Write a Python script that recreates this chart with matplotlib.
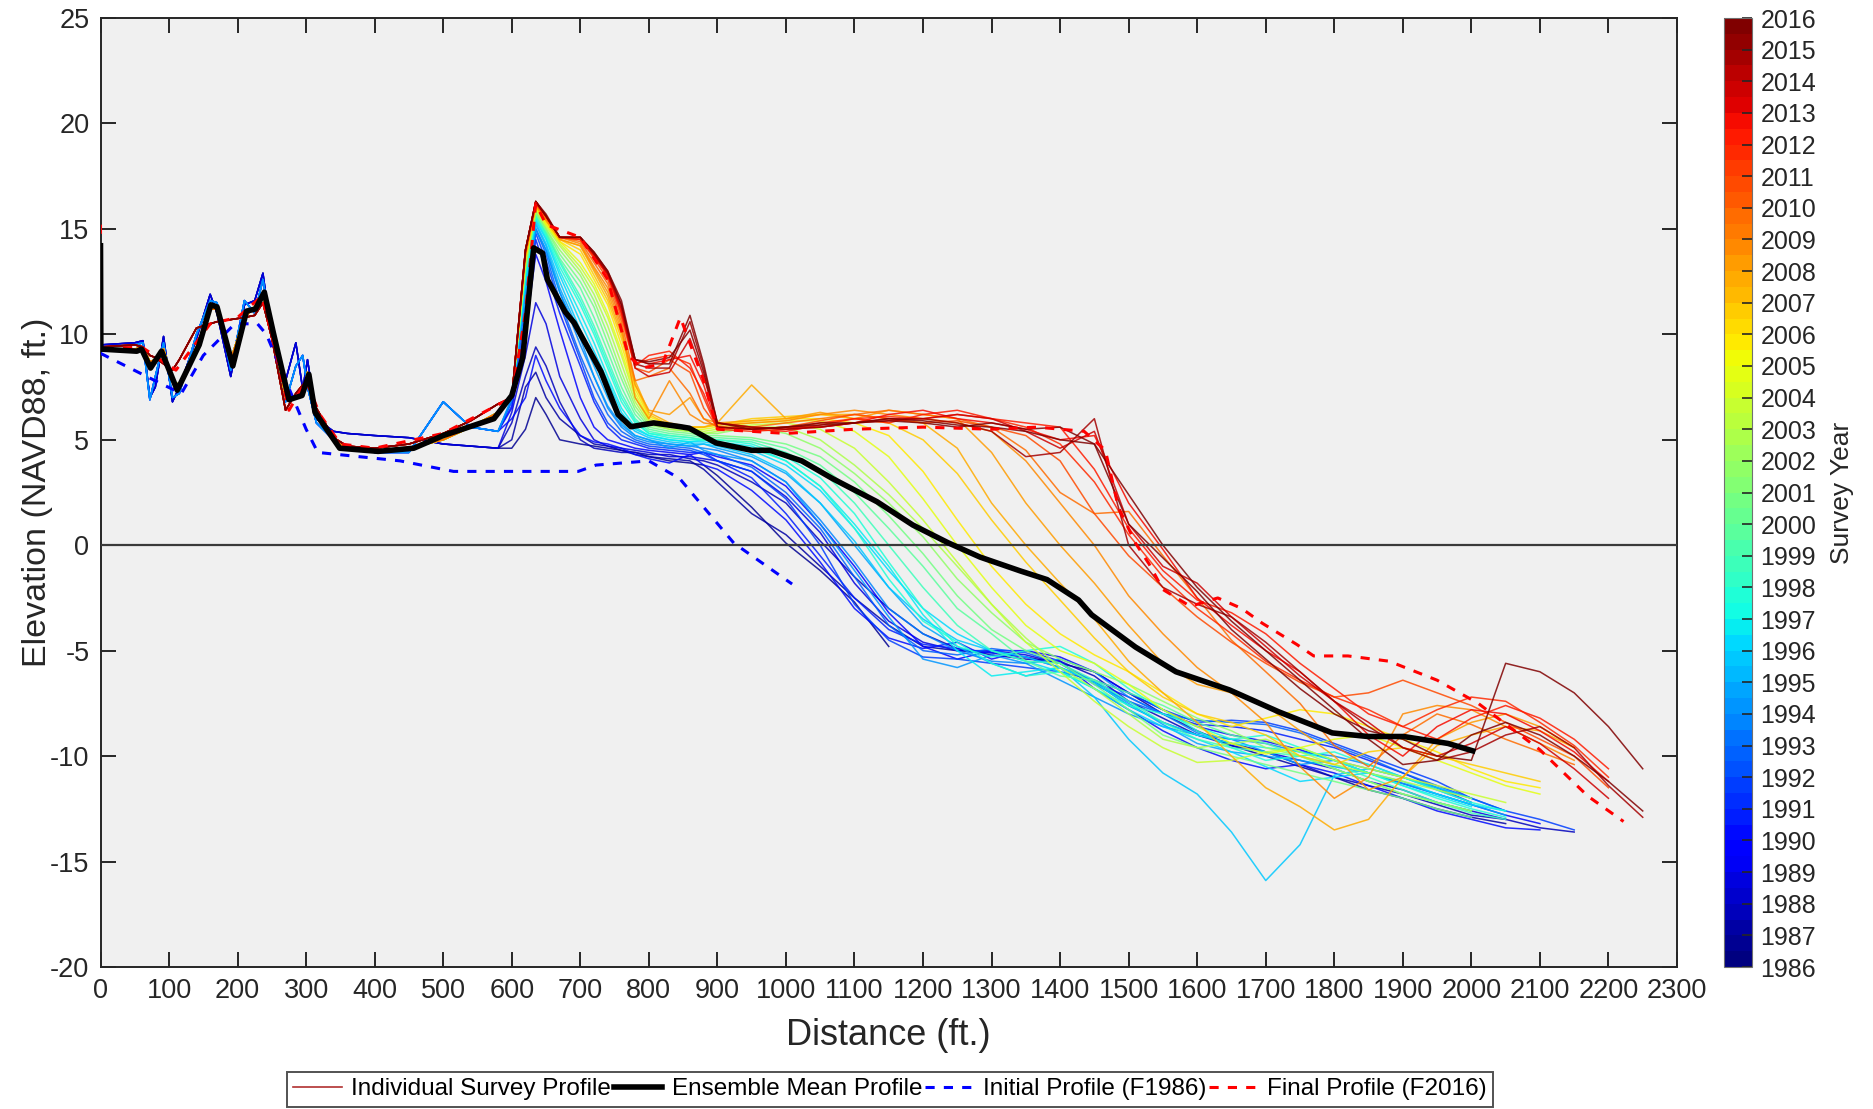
import numpy as np
import matplotlib
matplotlib.use('Agg')
import matplotlib.pyplot as plt
from matplotlib.colors import ListedColormap, Normalize
from matplotlib.cm import ScalarMappable
from matplotlib.lines import Line2D

plt.rcParams['font.family'] = ['Liberation Sans', 'DejaVu Sans']
plt.rcParams['axes.unicode_minus'] = False

# ---------------- data ----------------
# dune part distances (ft) and dune-shape variants (ft NAVD88)
DX = [0, 50, 62, 72, 80, 92, 105, 115, 140, 160, 170, 190, 210, 225, 237,
      250, 270, 285, 295, 302, 315, 340, 360, 400, 450, 500, 540, 580]
D_A = [9.5, 9.6, 9.7, 7.0, 7.5, 9.9, 6.8, 7.5, 9.8, 11.9, 11.0, 8.0, 11.4, 11.6, 12.9,
       9.8, 7.8, 9.6, 7.4, 8.8, 6.0, 5.4, 5.3, 5.2, 5.1, 4.8, 4.7, 4.6]
D_B = [9.4, 9.5, 9.6, 6.9, 8.0, 9.6, 7.0, 7.2, 10.0, 11.6, 11.5, 8.3, 11.6, 11.0, 12.6,
       10.0, 6.8, 8.5, 9.0, 7.5, 5.8, 5.0, 4.7, 4.4, 4.4, 6.8, 5.6, 5.4]
D_C = [9.3, 9.3, 9.4, 8.7, 8.8, 9.3, 7.8, 7.6, 9.4, 11.2, 11.2, 8.8, 10.8, 11.3, 11.8,
       10.4, 7.0, 7.0, 7.1, 8.2, 6.4, 5.0, 4.6, 4.5, 4.6, 5.0, 5.6, 6.3]
D_D = [9.4, 9.5, 9.4, 9.0, 8.9, 8.6, 8.3, 8.8, 10.3, 10.5, 10.6, 10.7, 10.8, 10.9, 11.5,
       9.8, 6.4, 7.2, 7.6, 7.8, 6.5, 5.1, 4.7, 4.6, 4.8, 5.3, 5.9, 6.7]

# shore part distances (ft)
SX = [600, 620, 635, 650, 670, 700, 720, 740, 760, 780, 800, 830, 860, 880, 900,
      950, 1000, 1050, 1100, 1150, 1200, 1250, 1300, 1350, 1400, 1450, 1500, 1550,
      1600, 1650, 1700, 1750, 1800, 1850, 1900, 1950, 2000, 2050, 2100, 2150, 2200, 2250]

Z_1986B = [4.6, 5.5, 7.0, 6.2, 5.0, 4.8, 4.7, 4.6, 4.5, 4.4, 4.2, 4.0, 3.9, 3.8, 3.3,
           1.8, 0.1, -1.2, -2.7, -4.8]
Z_1987A = [5.0, 7.5, 8.2, 7.0, 6.0, 5.2, 4.8, 4.7, 4.5, 4.3, 4.2, 4.1, 4.0, 3.6, 3.0,
           1.5, 0.5, -1.0, -2.5, -3.8, -4.8, -5.0, -5.1, -5.3, -5.6, -6.0, -7.0, -8.0,
           -8.8, -9.5, -10.0, -10.5, -11.0, -11.6, -12.0, -12.5, -12.9, -13.2]
Z_1987B = [5.8, 8.0, 9.4, 8.5, 6.8, 5.0, 4.6, 4.5, 4.4, 4.4, 4.3, 4.3, 4.1, 4.0, 3.8,
           3.0, 2.0, 0.2, -1.5, -3.0, -4.2, -4.9, -5.2, -5.4, -5.5, -6.2, -7.4, -8.2,
           -9.0, -9.4, -9.8, -10.4, -11.0, -11.4, -11.8, -12.3, -12.8, -13.0, -13.4, -13.6]
Z_1988 = [6.3, 9.0, 11.5, 10.5, 8.0, 6.0, 5.0, 4.7, 4.6, 4.5, 4.4, 4.2, 4.2, 4.1, 4.0,
          3.5, 2.3, 0.6, -1.8, -3.6, -4.6, -5.0, -5.0, -5.2, -5.6, -6.5, -7.6, -8.4,
          -9.0, -9.5, -9.8, -10.2, -10.6, -11.2, -11.6, -12.2, -12.6, -13.0]
Z_1989 = [6.5, 10.0, 13.8, 12.5, 10.2, 7.0, 5.6, 5.0, 4.8, 4.6, 4.5, 4.4, 4.3, 4.4, 4.2,
          3.8, 2.8, 1.0, -1.0, -3.2, -4.8, -5.4, -5.0, -5.0, -5.3, -6.0, -7.0, -7.8,
          -8.6, -9.0, -9.3, -9.7, -10.2, -10.8, -11.3, -11.8, -12.3, -12.8, -13.2]
Z_1990A = [6.0, 7.0, 9.0, 7.8, 6.5, 5.2, 4.9, 4.8, 4.6, 4.3, 4.1, 3.9, 4.3, 3.8, 3.6,
           2.6, 1.2, -0.8, -3.0, -4.4, -4.9, -4.6, -5.4, -5.0, -5.5, -6.8, -7.8, -8.8,
           -9.6, -10.2, -10.6, -10.4, -10.8, -11.4, -12.0, -12.6, -13.0, -13.4, -13.5]
Z_1990 = [6.6, 10.5, 14.5, 13.0, 11.0, 8.5, 6.8, 5.6, 5.0, 4.8, 4.6, 4.5, 4.4, 4.4, 4.0,
          3.2, 1.5, -0.5, -2.5, -4.0, -4.7, -4.9, -5.1, -5.3, -5.8, -6.5, -7.2, -8.0,
          -8.5, -8.6, -8.8, -9.2, -9.6, -10.2, -10.8, -11.5, -12.2]
Z_1991 = [6.8, 11.0, 14.8, 13.5, 11.4, 8.8, 7.0, 5.8, 5.2, 4.9, 4.7, 4.6, 4.5, 4.3, 4.0,
          3.5, 2.2, 0.0, -2.8, -4.5, -5.3, -5.4, -5.6, -5.8, -6.0, -6.4, -7.0, -7.8,
          -8.4, -8.3, -8.4, -8.8, -9.4, -10.0, -10.6, -11.2, -12.0, -12.6, -13.0, -13.5]
Z_1992 = [6.9, 11.5, 15.0, 13.8, 11.6, 9.0, 7.5, 6.2, 5.4, 5.0, 4.8, 4.7, 4.6, 4.4, 4.3,
          3.7, 2.5, 0.8, -1.5, -3.8, -5.0, -5.2, -4.9, -5.1, -5.6, -6.6, -7.4, -8.0,
          -8.3, -8.4, -8.5, -8.9, -9.5, -10.1, -10.8, -11.4, -12.0, -12.6]
Z_1993 = [6.9, 12.0, 15.0, 14.0, 12.0, 9.5, 8.0, 6.5, 5.6, 5.1, 4.9, 4.8, 4.7, 4.6, 4.5,
          4.0, 3.0, 1.2, -0.8, -3.0, -4.2, -5.0, -5.5, -5.6, -5.4, -6.0, -7.2, -8.0,
          -8.9, -9.2, -9.4, -9.8, -10.0, -10.4, -11.0, -11.6, -12.2]
Z_1994A = [7.0, 12.2, 15.0, 14.0, 12.0, 9.8, 8.0, 6.6, 5.7, 5.2, 5.0, 4.6, 4.9, 4.5, 4.3,
           4.0, 3.0, 1.0, -1.2, -3.4, -5.4, -5.8, -5.2, -5.6, -6.4, -7.2, -8.0, -8.6,
           -9.0, -9.2, -9.8, -10.4, -10.2, -10.6, -11.0, -11.5, -12.0]
Z_1994 = [7.0, 12.0, 15.2, 14.2, 12.2, 10.0, 8.5, 7.0, 5.8, 5.2, 5.0, 4.8, 4.7, 4.8, 4.6,
          4.2, 3.4, 2.0, 0.0, -2.0, -3.8, -4.8, -5.6, -6.2, -5.8, -6.4, -7.5, -8.5,
          -9.4, -9.8, -10.0, -10.2, -10.5, -10.8, -11.3, -11.8, -12.3, -12.8]
Z_1995 = [7.0, 12.5, 15.3, 14.3, 12.5, 10.2, 8.8, 7.2, 6.0, 5.4, 5.1, 4.9, 4.8, 4.8, 4.7,
          4.3, 3.5, 2.0, 0.2, -2.0, -3.5, -4.5, -5.0, -5.3, -5.8, -7.2, -9.2, -10.8,
          -11.8, -13.6, -15.9, -14.2, -10.9, -10.6, -11.0, -11.5, -12.0]
Z_1996A = [7.0, 12.5, 15.4, 14.5, 12.8, 10.6, 9.2, 7.8, 6.3, 5.5, 5.2, 5.0, 4.9, 4.9, 4.8,
           4.5, 3.8, 2.6, 0.8, -1.2, -3.0, -4.2, -5.0, -5.5, -6.0, -6.8, -7.8, -8.6,
           -9.2, -9.8, -10.5, -11.2, -11.0, -10.8, -11.2, -11.8, -12.3, -12.6]
Z_1996B = [7.0, 12.8, 15.5, 14.6, 13.0, 11.0, 9.6, 8.0, 6.5, 5.6, 5.2, 5.0, 4.9, 5.0, 4.9,
           4.7, 4.0, 2.8, 1.0, -1.0, -3.3, -5.0, -6.2, -6.0, -5.8, -6.5, -7.6, -8.4,
           -9.0, -9.4, -9.6, -9.8, -10.2, -10.8, -11.4, -11.9, -12.4]
Z_1997 = [7.0, 13.0, 15.6, 14.7, 13.2, 11.4, 10.0, 8.4, 6.8, 5.8, 5.3, 5.1, 5.0, 5.0, 5.0,
          4.8, 4.2, 3.2, 1.5, -0.8, -3.0, -4.8, -5.3, -5.0, -4.8, -5.6, -6.8, -7.8,
          -8.8, -9.6, -10.2, -10.0, -9.8, -10.4, -11.0, -11.6, -12.2, -12.6]
Z_1997B = [7.0, 13.0, 15.6, 14.8, 13.4, 11.6, 10.2, 8.6, 7.0, 5.9, 5.3, 5.2, 5.1, 5.0, 4.9,
           4.6, 4.0, 2.8, 0.8, -1.6, -3.6, -4.6, -5.6, -6.2, -6.0, -6.8, -7.6, -8.0,
           -8.6, -9.2, -9.0, -9.6, -10.2, -10.8, -11.4, -12.0, -12.5, -12.9]
Z_1998 = [7.0, 13.0, 15.6, 14.8, 13.5, 11.8, 10.4, 8.8, 7.2, 6.0, 5.4, 5.2, 5.1, 5.0, 5.0,
          4.9, 4.4, 3.6, 2.0, 0.0, -2.0, -3.8, -5.0, -5.5, -5.6, -6.4, -7.4, -8.4,
          -9.2, -9.6, -9.8, -10.0, -10.4, -11.0, -11.6, -12.2, -12.7, -13.0]
Z_1999 = [7.0, 13.2, 15.7, 14.9, 13.6, 12.2, 10.8, 9.2, 7.5, 6.2, 5.5, 5.3, 5.2, 5.1, 5.1,
          5.0, 4.6, 3.8, 2.5, 0.8, -1.0, -3.0, -4.2, -5.5, -6.2, -6.4, -7.0, -7.6,
          -8.4, -9.0, -9.4, -10.0, -10.6, -11.2, -11.8, -12.2, -12.6]
Z_2000 = [7.0, 13.2, 15.8, 15.0, 13.8, 12.5, 11.3, 9.6, 7.9, 6.4, 5.6, 5.4, 5.3, 5.2, 5.2,
          5.1, 4.8, 4.2, 3.0, 1.4, -0.4, -2.4, -4.0, -5.0, -5.6, -6.6, -7.8, -9.0,
          -9.6, -10.0, -10.4, -10.8, -11.2, -11.6, -12.0, -12.5, -12.9]
Z_2001 = [7.0, 13.3, 15.8, 15.0, 14.0, 12.8, 11.6, 10.0, 8.2, 6.6, 5.7, 5.5, 5.4, 5.3, 5.3,
          5.6, 5.3, 4.6, 3.4, 2.0, 0.4, -1.6, -3.2, -4.6, -5.4, -6.0, -6.6, -7.4,
          -8.2, -8.8, -9.6, -10.0, -10.6, -11.2, -11.8, -12.2, -12.6]
Z_2002 = [7.0, 13.4, 15.9, 15.1, 14.2, 13.0, 11.9, 10.4, 8.6, 6.8, 5.8, 5.5, 5.4, 5.3, 5.4,
          5.6, 5.6, 5.0, 3.8, 2.4, 0.8, -1.0, -2.8, -4.4, -5.8, -6.8, -8.0, -9.2,
          -9.6, -9.4, -9.2, -9.8, -10.4, -10.8, -11.2, -11.6, -12.0]
Z_2003 = [7.0, 13.5, 16.0, 15.2, 14.3, 13.2, 12.2, 10.8, 9.0, 7.0, 5.9, 5.6, 5.5, 5.4, 5.5,
          5.7, 5.8, 5.5, 4.6, 3.0, 1.2, -0.8, -2.8, -4.6, -6.0, -7.4, -8.6, -9.6,
          -10.3, -10.2, -9.8, -9.6, -10.2, -10.6, -11.0, -11.4, -11.8, -12.2]
Z_2004 = [7.0, 13.6, 16.0, 15.2, 14.4, 13.4, 12.4, 11.0, 9.2, 7.2, 6.0, 5.6, 5.5, 5.5, 5.6,
          5.8, 5.9, 5.9, 5.4, 4.2, 2.2, 0.0, -2.0, -3.8, -5.0, -5.6, -6.6, -7.8,
          -8.6, -9.4, -9.9, -9.6, -9.2, -9.0, -9.6, -10.2, -10.8, -11.4, -11.8]
Z_2005 = [7.0, 13.6, 16.0, 15.3, 14.4, 13.8, 12.6, 11.4, 9.5, 7.4, 6.1, 5.7, 5.6, 5.6, 5.7,
          5.9, 6.0, 6.0, 5.8, 5.2, 3.5, 1.2, -1.0, -2.8, -4.2, -5.2, -6.0, -7.0,
          -8.0, -8.6, -8.2, -7.8, -8.0, -8.6, -9.2, -9.8, -10.6, -11.2, -11.5]
Z_2006 = [7.0, 13.6, 16.1, 15.4, 14.5, 14.0, 12.8, 11.6, 9.8, 7.6, 6.2, 5.7, 5.6, 5.6, 5.7,
          6.0, 6.1, 6.2, 6.0, 5.8, 5.0, 3.4, 1.2, -0.8, -2.6, -4.4, -6.0, -7.2,
          -8.0, -8.4, -9.0, -10.0, -10.4, -9.8, -9.6, -10.0, -10.4, -10.8, -11.2]
Z_2007 = [7.0, 13.8, 16.1, 15.4, 14.5, 14.2, 13.0, 11.8, 10.0, 7.8, 6.3, 5.8, 5.6, 5.6, 5.8,
          7.6, 6.0, 6.2, 6.2, 6.0, 5.8, 4.6, 2.0, 0.0, -1.8, -3.5, -5.5, -7.0,
          -8.4, -10.0, -11.5, -12.4, -13.5, -13.0, -11.0, -9.5, -9.0, -8.6, -8.8, -9.6]
Z_2008A = [7.0, 13.8, 16.1, 15.4, 14.5, 14.2, 13.1, 12.0, 10.2, 7.6, 6.4, 6.2, 7.0, 6.0, 5.8,
           5.9, 6.0, 6.3, 6.0, 6.4, 6.2, 6.0, 4.4, 2.0, 0.0, -1.8, -3.8, -5.6,
           -6.6, -7.0, -7.6, -8.8, -10.0, -11.6, -11.0, -9.2, -8.4, -8.0, -8.6, -9.6]
Z_2008 = [7.0, 13.8, 16.2, 15.5, 14.6, 14.3, 13.2, 12.2, 10.4, 7.0, 6.0, 7.8, 6.2, 5.8, 5.7,
          5.8, 5.9, 6.2, 6.4, 6.2, 6.0, 5.8, 5.4, 4.0, 2.0, 0.0, -2.4, -4.2,
          -5.8, -7.0, -8.4, -10.5, -12.0, -11.0, -8.0, -7.6, -7.8, -8.6, -9.4, -10.2]
Z_2009 = [7.0, 13.8, 16.2, 15.5, 14.6, 14.4, 13.4, 12.4, 10.6, 7.8, 8.0, 8.4, 7.2, 6.0, 5.6,
          5.6, 5.8, 6.0, 6.2, 6.4, 6.2, 6.0, 5.6, 4.5, 2.5, 1.5, 1.6, -0.5,
          -2.5, -4.5, -6.0, -7.5, -9.5, -10.5, -9.0, -8.0, -8.5, -9.2, -9.8, -10.4]
Z_2010 = [7.0, 13.9, 16.2, 15.6, 14.6, 14.5, 13.6, 12.6, 10.8, 8.4, 8.2, 8.8, 8.2, 6.5, 5.6,
          5.5, 5.6, 5.9, 6.2, 6.0, 5.8, 5.9, 5.6, 5.2, 4.0, 1.5, -0.5, -2.0,
          -3.4, -4.6, -5.6, -6.5, -7.2, -7.0, -6.4, -7.0, -7.6, -8.4, -9.2, -10.0, -11.5]
Z_2011 = [7.0, 14.0, 16.3, 15.6, 14.6, 14.5, 13.7, 12.8, 11.0, 8.6, 8.8, 9.0, 8.6, 7.0, 5.5,
          5.4, 5.5, 5.8, 6.0, 6.1, 6.0, 6.2, 6.0, 5.6, 4.8, 3.0, 0.5, -1.5,
          -3.0, -4.2, -5.5, -6.4, -7.2, -7.8, -8.6, -7.8, -7.2, -7.4, -8.4, -9.5, -11.0]
Z_2012A = [7.0, 14.0, 16.2, 15.6, 14.6, 14.5, 13.7, 12.8, 11.0, 8.5, 9.0, 9.2, 8.4, 7.2, 5.6,
           5.5, 5.4, 5.7, 6.0, 5.8, 6.2, 6.4, 6.0, 5.8, 5.6, 3.6, 0.8, -1.2,
           -2.6, -3.2, -4.2, -5.6, -6.8, -8.0, -8.6, -9.2, -8.2, -7.6, -8.2, -9.2, -10.6]
Z_2012 = [7.0, 14.0, 16.3, 15.6, 14.6, 14.6, 13.8, 12.8, 11.2, 8.8, 8.6, 8.8, 9.0, 7.6, 5.6,
          5.5, 5.6, 5.6, 5.8, 6.2, 6.4, 6.0, 5.8, 5.5, 5.0, 5.2, 2.0, -0.2,
          -2.5, -3.8, -5.0, -6.0, -7.4, -9.0, -10.0, -8.6, -7.8, -8.0, -8.8, -9.8, -11.2]
Z_2013 = [7.0, 14.0, 16.3, 15.6, 14.6, 14.6, 13.8, 12.9, 11.2, 8.4, 8.0, 8.2, 9.8, 8.0, 5.8,
          5.6, 5.5, 5.6, 5.8, 5.9, 6.0, 6.2, 6.0, 5.4, 4.6, 5.4, 1.0, -1.0,
          -1.8, -3.4, -4.8, -6.2, -7.4, -8.4, -9.6, -10.0, -9.4, -8.6, -9.4, -10.6, -12.0]
Z_2014 = [7.0, 14.0, 16.3, 15.6, 14.6, 14.6, 13.8, 12.9, 11.4, 8.6, 8.4, 8.4, 10.6, 8.4, 5.8,
          5.6, 5.5, 5.6, 5.8, 6.0, 6.0, 5.8, 5.4, 4.2, 4.4, 6.0, 0.0, -2.0,
          -2.8, -3.4, -4.6, -6.0, -7.4, -8.6, -9.6, -10.2, -9.8, -9.0, -8.6, -9.6, -11.4, -12.9]
Z_2015 = [7.0, 14.0, 16.3, 15.6, 14.6, 14.6, 13.9, 13.0, 11.4, 8.8, 8.6, 8.6, 10.9, 8.6, 5.8,
          5.5, 5.6, 5.7, 5.8, 5.9, 5.8, 5.6, 5.8, 5.5, 5.6, 4.8, 1.0, -0.6,
          -2.2, -4.0, -5.4, -6.8, -8.0, -8.8, -9.2, -10.0, -10.2, -5.6, -6.0, -7.0, -8.6, -10.6]
Z_2016 = [7.0, 14.0, 16.3, 15.7, 14.6, 14.6, 13.9, 13.0, 11.6, 8.8, 8.7, 8.9, 10.2, 8.2, 5.6,
          5.5, 5.6, 5.8, 5.8, 6.0, 5.9, 5.7, 5.6, 5.4, 5.0, 4.8, 2.4, 0.0,
          -2.0, -3.6, -5.0, -6.4, -7.8, -9.2, -10.4, -10.2, -9.0, -8.4, -9.0, -10.0, -11.2, -12.6]

SURVEY_YEARS = [1986.9, 1987.3, 1987.8, 1988.5, 1989.5, 1990.0, 1990.5, 1991.5, 1992.5,
                1993.5, 1994.0, 1994.5, 1995.5, 1996.3, 1996.8, 1997.5, 1997.9, 1998.5,
                1999.5, 2000.5, 2001.5, 2002.5, 2003.5, 2004.5, 2005.5, 2006.5, 2007.5,
                2008.0, 2008.5, 2009.5, 2010.5, 2011.5, 2012.0, 2012.5, 2013.5, 2014.5,
                2015.5, 2016.2]
SURVEY_SHORE = [Z_1986B, Z_1987A, Z_1987B, Z_1988, Z_1989, Z_1990A, Z_1990, Z_1991, Z_1992,
                Z_1993, Z_1994A, Z_1994, Z_1995, Z_1996A, Z_1996B, Z_1997, Z_1997B, Z_1998,
                Z_1999, Z_2000, Z_2001, Z_2002, Z_2003, Z_2004, Z_2005, Z_2006, Z_2007,
                Z_2008A, Z_2008, Z_2009, Z_2010, Z_2011, Z_2012A, Z_2012, Z_2013, Z_2014,
                Z_2015, Z_2016]
SURVEY_DUNE = [D_A, D_A, D_A, D_A, D_B, D_B, D_B, D_B, D_B,
               D_B, D_B, D_C, D_C, D_C, D_C, D_C, D_C, D_C,
               D_C, D_C, D_C, D_C, D_C, D_C, D_C, D_C, D_C,
               D_C, D_C, D_C, D_D, D_D, D_D, D_D, D_D, D_D,
               D_D, D_D]

MEAN_X = [0, 0.5, 53, 60, 73, 89, 112, 144, 161, 170, 193, 213, 226, 239, 252, 275, 294,
          304, 313, 349, 405, 457, 500, 574, 600, 616, 632, 645, 652, 678, 691, 730, 755,
          774, 807, 846, 859, 898, 950, 977, 1023, 1068, 1133, 1185, 1237, 1283, 1342,
          1381, 1427, 1446, 1510, 1569, 1647, 1719, 1797, 1849, 1901, 1966, 2002]
MEAN_Z = [14.2, 9.3, 9.2, 9.3, 8.4, 9.2, 7.35, 9.5, 11.4, 11.3, 8.5, 11.1, 11.2, 12.0, 10.1,
          6.9, 7.1, 8.1, 6.3, 4.6, 4.45, 4.6, 5.2, 6.0, 7.1, 8.9, 14.1, 13.85, 12.6, 11.06,
          10.55, 8.24, 6.2, 5.62, 5.8, 5.62, 5.55, 4.85, 4.5, 4.5, 4.0, 3.16, 2.06, 0.96,
          0.11, -0.56, -1.22, -1.63, -2.6, -3.3, -4.83, -6.0, -6.86, -7.9, -8.9, -9.07,
          -9.07, -9.4, -9.75]

INIT_X = [0, 92, 118, 150, 196, 229, 242, 300, 317, 437, 515, 697, 723, 800, 845, 924, 1009]
INIT_Z = [9.1, 7.6, 7.2, 9.0, 10.5, 10.5, 10.0, 5.5, 4.4, 4.0, 3.5, 3.5, 3.8, 4.0, 3.16,
          0.1, -1.84]

FINAL_X = [0, 0.5, 60, 110, 160, 200, 235, 250, 275, 300, 320, 350, 400, 500, 600, 620,
           635, 650, 700, 740, 770, 790, 820, 846, 879, 900, 1000, 1100, 1200, 1300, 1367,
           1435, 1466, 1485, 1510, 1530, 1550, 1590, 1630, 1665, 1695, 1745, 1770, 1820,
           1880, 1950, 2010, 2100, 2170, 2222]
FINAL_Z = [15.2, 9.3, 9.4, 8.3, 10.5, 10.8, 11.8, 10.0, 6.4, 7.8, 6.2, 4.8, 4.6, 5.3, 7.0,
           11.0, 16.2, 15.2, 14.6, 12.6, 9.0, 8.4, 8.6, 10.8, 7.9, 5.5, 5.3, 5.5, 5.6, 5.5,
           5.6, 5.4, 4.5, 1.8, 0.1, -0.9, -2.1, -2.9, -2.5, -3.0, -3.7, -4.7, -5.25, -5.25,
           -5.5, -6.4, -7.5, -9.7, -11.9, -13.1]

YEAR_TICKS = list(range(1986, 2017))
LEGEND_LABELS = ['Individual Survey Profile', 'Ensemble Mean Profile',
                 'Initial Profile (F1986)', 'Final Profile (F2016)']

# ---------------- figure ----------------
W, H = 1873, 1109
fig = plt.figure(figsize=(W / 100, H / 100), dpi=100)
ax_l, ax_r, ax_t, ax_b = 100.5, 1677, 18, 967
ax = fig.add_axes([ax_l / W, 1 - ax_b / H, (ax_r - ax_l) / W, (ax_b - ax_t) / H])
cax = fig.add_axes([1724 / W, 1 - ax_b / H, 28 / W, (ax_b - ax_t) / H])

ax.set_facecolor('#f0f0f0')
jet60 = ListedColormap(plt.get_cmap('jet')(np.linspace(0, 1, 60)))
norm = Normalize(1986, 2016)

for yr, dune, shore in zip(SURVEY_YEARS, SURVEY_DUNE, SURVEY_SHORE):
    xs = list(DX) + list(SX[:len(shore)])
    zs = list(dune) + list(shore)
    ax.plot(xs, zs, color=jet60(norm(yr)), lw=1.1, alpha=0.85, zorder=2)

ax.axhline(0, color='#3a3a3a', lw=1.6, zorder=3)
ax.plot(INIT_X, INIT_Z, color='#0000ff', lw=2.2, ls=(0, (3, 3)), zorder=4)
ax.plot(FINAL_X, FINAL_Z, color='#ff0000', lw=2.2, ls=(0, (3, 3)), zorder=4)
ax.plot(MEAN_X, MEAN_Z, color='black', lw=4.0, zorder=5, solid_joinstyle='round')

ax.set_xlim(0, 2300)
ax.set_ylim(-20, 25)
ax.set_xticks(range(0, 2301, 100))
ax.set_yticks(range(-20, 26, 5))
ax.tick_params(direction='in', length=11, width=1.4, top=True, right=True,
               labelsize=19.5, colors='#262626', pad=8)
for s in ax.spines.values():
    s.set_color('#262626')
    s.set_linewidth(1.4)
ax.set_xlabel('Distance (ft.)', fontsize=26, color='#262626', labelpad=10)
ax.set_ylabel('Elevation (NAVD88, ft.)', fontsize=24.5, color='#262626', labelpad=-2)

cb = fig.colorbar(ScalarMappable(norm=norm, cmap=jet60), cax=cax, ticks=YEAR_TICKS)
cb.ax.tick_params(direction='in', length=7, width=1.2, labelsize=18, colors='#262626', pad=6)
cb.outline.set_edgecolor('#707070')
cb.set_label('Survey Year', fontsize=19, color='#262626', labelpad=10)

handles = [Line2D([], [], color='#b03030', lw=1.2),
           Line2D([], [], color='black', lw=4.0),
           Line2D([], [], color='#0000ff', lw=2.2, ls=(0, (3, 3))),
           Line2D([], [], color='#ff0000', lw=2.2, ls=(0, (3, 3)))]
leg = fig.legend(handles, LEGEND_LABELS, loc='lower center', bbox_to_anchor=(890 / W, 0.0),
                 ncol=4, fontsize=17.5, frameon=True, fancybox=False, edgecolor='#262626',
                 handlelength=2.0, handletextpad=0.4, columnspacing=0.1, borderpad=0.25,
                 borderaxespad=0.1)
leg.get_frame().set_linewidth(1.4)

fig.savefig('out.png', dpi=100)
